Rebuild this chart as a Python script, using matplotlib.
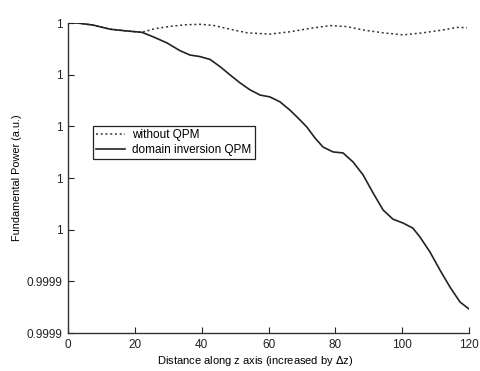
import numpy as np
import matplotlib.pyplot as plt

plt.rcParams['font.family'] = ['Liberation Sans', 'DejaVu Sans']

# distance along z, fundamental power (shown as 1 - value*1e-6)
z_qpm = [0, 2.7, 7.5, 12.6, 17.7, 22.1, 25.4, 29.6, 33.5, 36.5, 39.5, 42.5,
         45.5, 48.5, 51.5, 54.5, 57.5, 60.4, 63.4, 66.4, 69.4, 71.5, 73.9,
         76.3, 79.3, 82.3, 85.3, 88.3, 91.3, 94.3, 97.2, 100.2, 103.2, 105.3,
         108.3, 111.3, 114.3, 117.3, 120]
loss_qpm = [0, 0, 0.8, 2.4, 3.1, 3.6, 5.3, 7.7, 10.7, 12.4, 13.0, 14.1,
            16.9, 20.1, 23.2, 25.9, 27.9, 28.6, 30.5, 33.7, 37.5, 40.3, 44.5,
            48.0, 49.9, 50.3, 53.8, 58.8, 65.8, 72.4, 75.9, 77.4, 79.4, 82.8,
            88.6, 95.6, 102.2, 108.0, 110.7]

z_noqpm = [0, 2.7, 7.5, 12.6, 17.7, 22.1, 26.0, 30.5, 35.0, 39.5, 43.4, 48.5,
           53.6, 60.4, 66.4, 72.4, 78.4, 83.5, 88.3, 94.3, 100.2, 106.2,
           112.2, 116.4, 119.4]
loss_noqpm = [0, 0, 0.8, 2.4, 3.1, 3.6, 2.2, 1.3, 0.7, 0.5, 0.9, 2.4,
              3.8, 4.3, 3.4, 2.1, 1.0, 1.4, 2.7, 3.8, 4.6, 3.8,
              2.7, 1.7, 1.8]

ytick_vals = [0.99988, 0.9999, 0.99992, 0.99994, 0.99996, 0.99998, 1.0]
ytick_labels = ['0.9999', '0.9999', '1', '1', '1', '1', '1']
xtick_vals = [0, 20, 40, 60, 80, 100, 120]

p_qpm = 1 - np.array(loss_qpm) * 1e-6
p_noqpm = 1 - np.array(loss_noqpm) * 1e-6

fig = plt.figure(figsize=[4.8, 3.71], dpi=100)
ax = fig.add_axes([0.1417, 0.1024, 0.8354, 0.8356])

f1, = ax.plot(z_noqpm, p_noqpm, color='#333333', lw=1.1, linestyle=(0, (1.3, 1.8)))
f2, = ax.plot(z_qpm, p_qpm, color='#222222', lw=1.2)

ax.set_xlim([0, 120])
ax.set_ylim([0.99988, 1.0])
ax.set_xticks(xtick_vals)
ax.set_yticks(ytick_vals)
ax.set_yticklabels(ytick_labels)
ax.tick_params(direction='in', length=4, labelsize=8.5, colors='#222222', pad=4)
ax.spines['top'].set_visible(False)
ax.spines['right'].set_visible(False)
for s in ['left', 'bottom']:
    ax.spines[s].set_color('#333333')
    ax.spines[s].set_linewidth(1.0)

ax.set_xlabel("Distance along z axis (increased by $\\Delta$z)", fontsize=8)
ax.xaxis.set_label_coords(0.467, -0.068)
ax.set_ylabel("Fundamental Power (a.u.)", fontsize=7.8, labelpad=3)

leg = ax.legend(handles=[f1, f2], labels=["without QPM", "domain inversion QPM"],
                loc="upper left", bbox_to_anchor=(0.062, 0.668), borderaxespad=0,
                fontsize=8.5, fancybox=False, framealpha=1, edgecolor='#222222',
                handlelength=2.4, borderpad=0.3, labelspacing=0.2, handletextpad=0.6)
leg.get_frame().set_linewidth(0.9)

plt.savefig("out.png", dpi=100)
